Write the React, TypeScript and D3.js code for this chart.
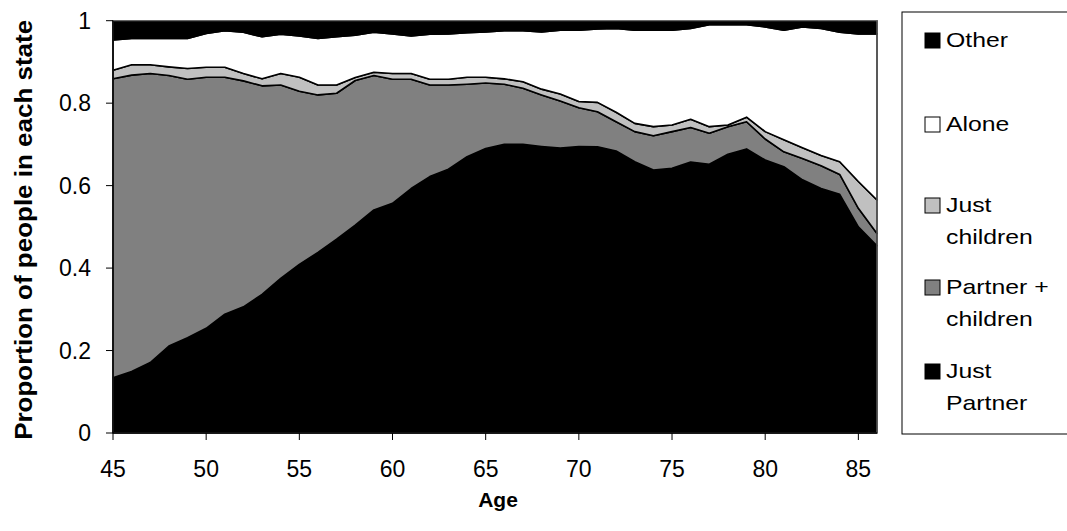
import React from "react";
import * as d3 from "d3";

const ages = d3.range(45, 87);

const justPartner = [0.134, 0.149, 0.171, 0.211, 0.231, 0.254, 0.288, 0.306, 0.336, 0.375, 0.409, 0.438, 0.47, 0.504, 0.541, 0.557, 0.593, 0.622, 0.64, 0.67, 0.69, 0.7, 0.7, 0.695, 0.691, 0.695, 0.694, 0.684, 0.658, 0.638, 0.642, 0.657, 0.652, 0.676, 0.689, 0.662, 0.646, 0.614, 0.593, 0.579, 0.5, 0.454];
const partnerChildren = [0.725, 0.719, 0.701, 0.656, 0.627, 0.609, 0.575, 0.548, 0.506, 0.469, 0.42, 0.382, 0.354, 0.351, 0.326, 0.301, 0.265, 0.222, 0.204, 0.176, 0.159, 0.146, 0.136, 0.125, 0.114, 0.094, 0.085, 0.071, 0.073, 0.083, 0.089, 0.084, 0.075, 0.067, 0.066, 0.051, 0.036, 0.052, 0.055, 0.048, 0.045, 0.03];
const justChildren = [0.021, 0.025, 0.021, 0.021, 0.026, 0.024, 0.024, 0.018, 0.017, 0.028, 0.034, 0.024, 0.02, 0.007, 0.008, 0.014, 0.014, 0.014, 0.014, 0.017, 0.014, 0.013, 0.016, 0.014, 0.017, 0.015, 0.023, 0.023, 0.02, 0.022, 0.016, 0.02, 0.016, 0.004, 0.011, 0.018, 0.029, 0.026, 0.025, 0.031, 0.065, 0.081];
const alone = [0.073, 0.064, 0.064, 0.069, 0.073, 0.082, 0.089, 0.1, 0.102, 0.095, 0.1, 0.113, 0.117, 0.103, 0.097, 0.096, 0.091, 0.109, 0.11, 0.108, 0.11, 0.117, 0.124, 0.139, 0.155, 0.173, 0.178, 0.203, 0.226, 0.234, 0.23, 0.22, 0.247, 0.243, 0.224, 0.254, 0.266, 0.293, 0.308, 0.314, 0.358, 0.403];
const other = [0.047, 0.043, 0.043, 0.043, 0.043, 0.031, 0.024, 0.028, 0.039, 0.033, 0.037, 0.043, 0.039, 0.035, 0.028, 0.032, 0.037, 0.033, 0.032, 0.029, 0.027, 0.024, 0.024, 0.027, 0.023, 0.023, 0.02, 0.019, 0.023, 0.023, 0.023, 0.019, 0.01, 0.01, 0.01, 0.015, 0.023, 0.015, 0.019, 0.028, 0.032, 0.032];

const seriesKeys = ["justPartner", "partnerChildren", "justChildren", "alone", "other"];
const seriesColors = ["#000000", "#808080", "#c0c0c0", "#ffffff", "#000000"];
const legendLabels = [["Other"], ["Alone"], ["Just", "children"], ["Partner +", "children"], ["Just", "Partner"]];
const legendColors = ["#000000", "#ffffff", "#c0c0c0", "#808080", "#000000"];
const xTicks = [45, 50, 55, 60, 65, 70, 75, 80, 85];
const yTicks = [0, 0.2, 0.4, 0.6, 0.8, 1];

const W = 1067;
const H = 531;
const plot = { left: 113, right: 877, top: 20.7, bottom: 433 };
const FONT = "'Liberation Sans', Arial, Helvetica, sans-serif";

export default function App() {
  const rows = ages.map((a, i) => ({
    age: a,
    justPartner: justPartner[i],
    partnerChildren: partnerChildren[i],
    justChildren: justChildren[i],
    alone: alone[i],
    other: other[i],
  }));
  const stacked = d3.stack<any>().keys(seriesKeys)(rows);
  const x = d3.scaleLinear().domain([45, 86]).range([plot.left, plot.right]);
  const y = d3.scaleLinear().domain([0, 1]).range([plot.bottom, plot.top]);
  const area = d3
    .area<any>()
    .x((d: any) => x(d.data.age))
    .y0((d: any) => y(d[0]))
    .y1((d: any) => y(Math.min(1, d[1])));

  const legendX = 902;
  const legendTop = 12;
  const legendBottom = 434;
  const entryBaselines = [47, 131, 212, 294, 378];

  return (
    <svg width={W} height={H} style={{ position: "absolute", left: 0, top: 0, background: "#fff" }} fontFamily={FONT}>
      <rect x={0} y={0} width={W} height={H} fill="#fff" />
      <g>
        {stacked.map((s: any, i: number) => (
          <path key={seriesKeys[i]} d={area(s) || ""} fill={seriesColors[i]} stroke="#000" strokeWidth={1.6} strokeLinejoin="round" />
        ))}
      </g>
      <rect x={plot.left} y={plot.top} width={plot.right - plot.left} height={plot.bottom - plot.top} fill="none" stroke="#808080" strokeWidth={1} />
      {/* Y axis */}
      <line x1={plot.left} x2={plot.left} y1={plot.top} y2={plot.bottom} stroke="#000" strokeWidth={1.5} />
      {yTicks.map((t) => (
        <g key={"y" + t}>
          <line x1={plot.left - 7} x2={plot.left} y1={y(t)} y2={y(t)} stroke="#000" strokeWidth={1} />
          <text x={91} y={y(t) + 8} textAnchor="end" fontSize={23} fill="#000">
            {t === 0 ? "0" : t === 1 ? "1" : String(t)}
          </text>
        </g>
      ))}
      {/* X axis */}
      <line x1={plot.left} x2={plot.right} y1={plot.bottom} y2={plot.bottom} stroke="#000" strokeWidth={1.5} />
      {xTicks.map((t) => (
        <g key={"x" + t}>
          <line x1={x(t)} x2={x(t)} y1={plot.bottom} y2={plot.bottom + 7} stroke="#000" strokeWidth={1} />
          <text x={x(t)} y={477} textAnchor="middle" fontSize={23} fill="#000">
            {t}
          </text>
        </g>
      ))}
      <text x={498} y={507} textAnchor="middle" fontSize={21} fontWeight="bold" fill="#000">
        Age
      </text>
      <text
        transform={`translate(32,${(plot.top + plot.bottom) / 2 + 3}) rotate(-90)`}
        textAnchor="middle"
        fontSize={23}
        fontWeight="bold"
        fill="#000"
        textLength={420}
        lengthAdjust="spacingAndGlyphs"
      >
        Proportion of people in each state
      </text>
      {/* Legend */}
      <rect x={legendX} y={legendTop} width={180} height={legendBottom - legendTop} fill="#fff" stroke="#000" strokeWidth={1} />
      {legendLabels.map((lines, i) => (
        <g key={"lg" + i}>
          <rect x={925} y={entryBaselines[i] - 14} width={15} height={15} fill={legendColors[i]} stroke="#000" strokeWidth={1} />
          {lines.map((ln, j) => (
            <text key={j} transform={`translate(946,${entryBaselines[i] + j * 32}) scale(1.24,1)`} fontSize={20} fill="#000">
              {ln}
            </text>
          ))}
        </g>
      ))}
    </svg>
  );
}
